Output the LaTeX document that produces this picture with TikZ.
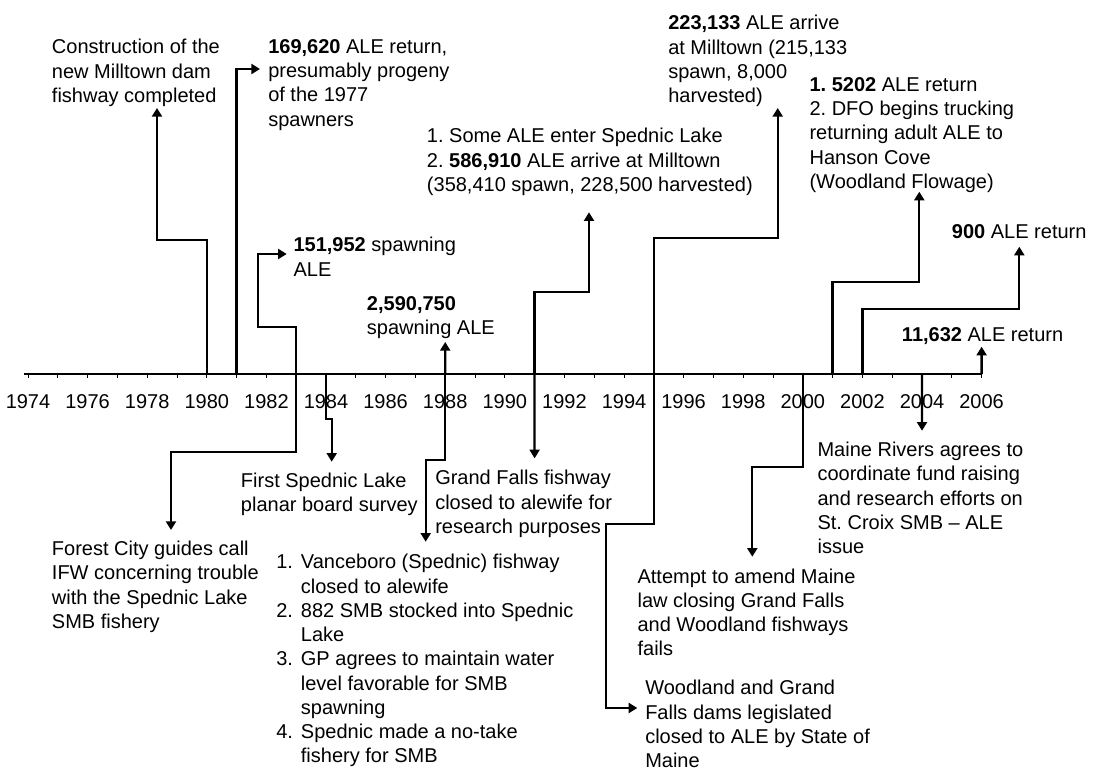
\documentclass[tikz,border=0pt]{standalone}
\usepackage{fontspec}
\setmainfont{Liberation Sans}
\usetikzlibrary{arrows.meta}
\frenchspacing
\tikzset{evt/.style={line width=1.7pt, -{Triangle[length=6.5pt,width=7.5pt]}},
  note/.style={anchor=north west, inner sep=0pt, align=left, font=\fontsize{15}{18.2}\selectfont},
  yr/.style={anchor=north, inner sep=0pt, font=\fontsize{15}{18.2}\selectfont}}
\newcommand{\itm}[1]{\makebox[18.5pt][l]{#1}}

\begin{document}
\begin{tikzpicture}[x=0.75pt,y=-0.75pt]
\useasboundingbox (0,0) rectangle (1098,771);
% time axis
\draw[line width=0.8pt] (24,374) -- (981.6,374);
\foreach \yr in {1974,...,2006}
  \draw[line width=0.6pt] ({28+(\yr-1974)*29.8},374) -- ++(0,4);
\foreach \yr in {1974,1976,...,2006}
  \node[yr] at ({28+(\yr-1974)*29.8},394) {\yr};
\foreach \yr in {1980,1981,1983,1984,1988,1991,1995,2000,2001,2002,2004,2006}
  \coordinate (t\yr) at ({28+(\yr-1974)*29.8},374);

% events above the axis
\node[note] (n1) at (51.7,39) {Construction of the\\new Milltown dam\\fishway completed};
\node[note] (n2) at (268,39) {\textbf{169,620} ALE return,\\presumably progeny\\of the 1977\\spawners};
\node[note] (n3) at (293.3,237) {\textbf{151,952} spawning\\ALE};
\node[note] (n4) at (366.7,296) {\textbf{2,590,750}\\spawning ALE};
\node[note] (n5) at (426.7,128) {1. Some ALE enter Spednic Lake\\2. \textbf{586,910} ALE arrive at Milltown\\(358,410 spawn, 228,500 harvested)};
\node[note] (n6) at (668,15) {\textbf{223,133} ALE arrive\\at Milltown (215,133\\spawn, 8,000\\harvested)};
\node[note] (n7) at (809.3,77) {\textbf{1. 5202} ALE return\\2. DFO begins trucking\\returning adult ALE to\\Hanson Cove\\(Woodland Flowage)};
\node[note] (n8) at (951.7,224) {\textbf{900} ALE return};
\node[note] (n9) at (901.7,327.3) {\textbf{11,632} ALE return};

\coordinate (a1) at (157,108);
\coordinate (a2) at (260,69);
\coordinate (a3) at (286.7,254);
\coordinate (a4) at (445.2,342);
\coordinate (a5) at (589,212.3);
\coordinate (a6) at (777.7,108);
\coordinate (a7) at (919.3,191.7);
\coordinate (a8) at (1019.3,246.7);
\coordinate (a9) at (981.6,346.7);

\draw[evt] (t1980) |- (157,240) -- (a1);
\draw[evt] (t1981) |- (a2);
\draw[evt] (t1983) |- (257.7,327) |- (a3);
\draw[evt] (t1988) -- (a4);
\draw[evt] (t1991) |- (589,292.3) -- (a5);
\draw[evt] (t1995) |- (777.7,238) -- (a6);
\draw[evt] (t2001) |- (919.3,281.7) -- (a7);
\draw[evt] (t2002) |- (1019.3,309.3) -- (a8);
\draw[evt] (t2006) -- (a9);

% events below the axis
\node[note] (m1) at (51.7,540.7) {Forest City guides call\\IFW concerning trouble\\with the Spednic Lake\\SMB fishery};
\node[note] (m2) at (240.7,472.7) {First Spednic Lake\\planar board survey};
\node[note] (m3) at (276,554) {\itm{1.}Vanceboro (Spednic) fishway\\\itm{}closed to alewife\\\itm{2.}882 SMB stocked into Spednic\\\itm{}Lake\\\itm{3.}GP agrees to maintain water\\\itm{}level favorable for SMB\\\itm{}spawning\\\itm{4.}Spednic made a no-take\\\itm{}fishery for SMB};
\node[note] (m4) at (435,470) {Grand Falls fishway\\closed to alewife for\\research purposes};
\node[note] (m5) at (645,680) {Woodland and Grand\\Falls dams legislated\\closed to ALE by State of\\Maine};
\node[note] (m6) at (637.3,568.3) {Attempt to amend Maine\\law closing Grand Falls\\and Woodland fishways\\fails};
\node[note] (m7) at (817.3,441.7) {Maine Rivers agrees to\\coordinate fund raising\\and research efforts on\\St. Croix SMB -- ALE\\issue};

\coordinate (b1) at (171,530);
\coordinate (b2) at (331.7,461.7);
\coordinate (b3) at (425.7,541.7);
\coordinate (b4) at (534.6,458.3);
\coordinate (b5) at (637.3,708);
\coordinate (b6) at (752.3,556.7);
\coordinate (b7) at (922,430.7);

\draw[evt] (t1983) |- (171,451.7) -- (b1);
\draw[evt] (t1984) |- (331.7,419.3) -- (b2);
\draw[evt] (t1988) |- (425.7,460) -- (b3);
\draw[evt] (t1991) -- (b4);
\draw[evt] (t1995) |- (606,524) |- (b5);
\draw[evt] (t2000) |- (752.3,467.3) -- (b6);
\draw[evt] (t2004) -- (b7);
\end{tikzpicture}
\end{document}
